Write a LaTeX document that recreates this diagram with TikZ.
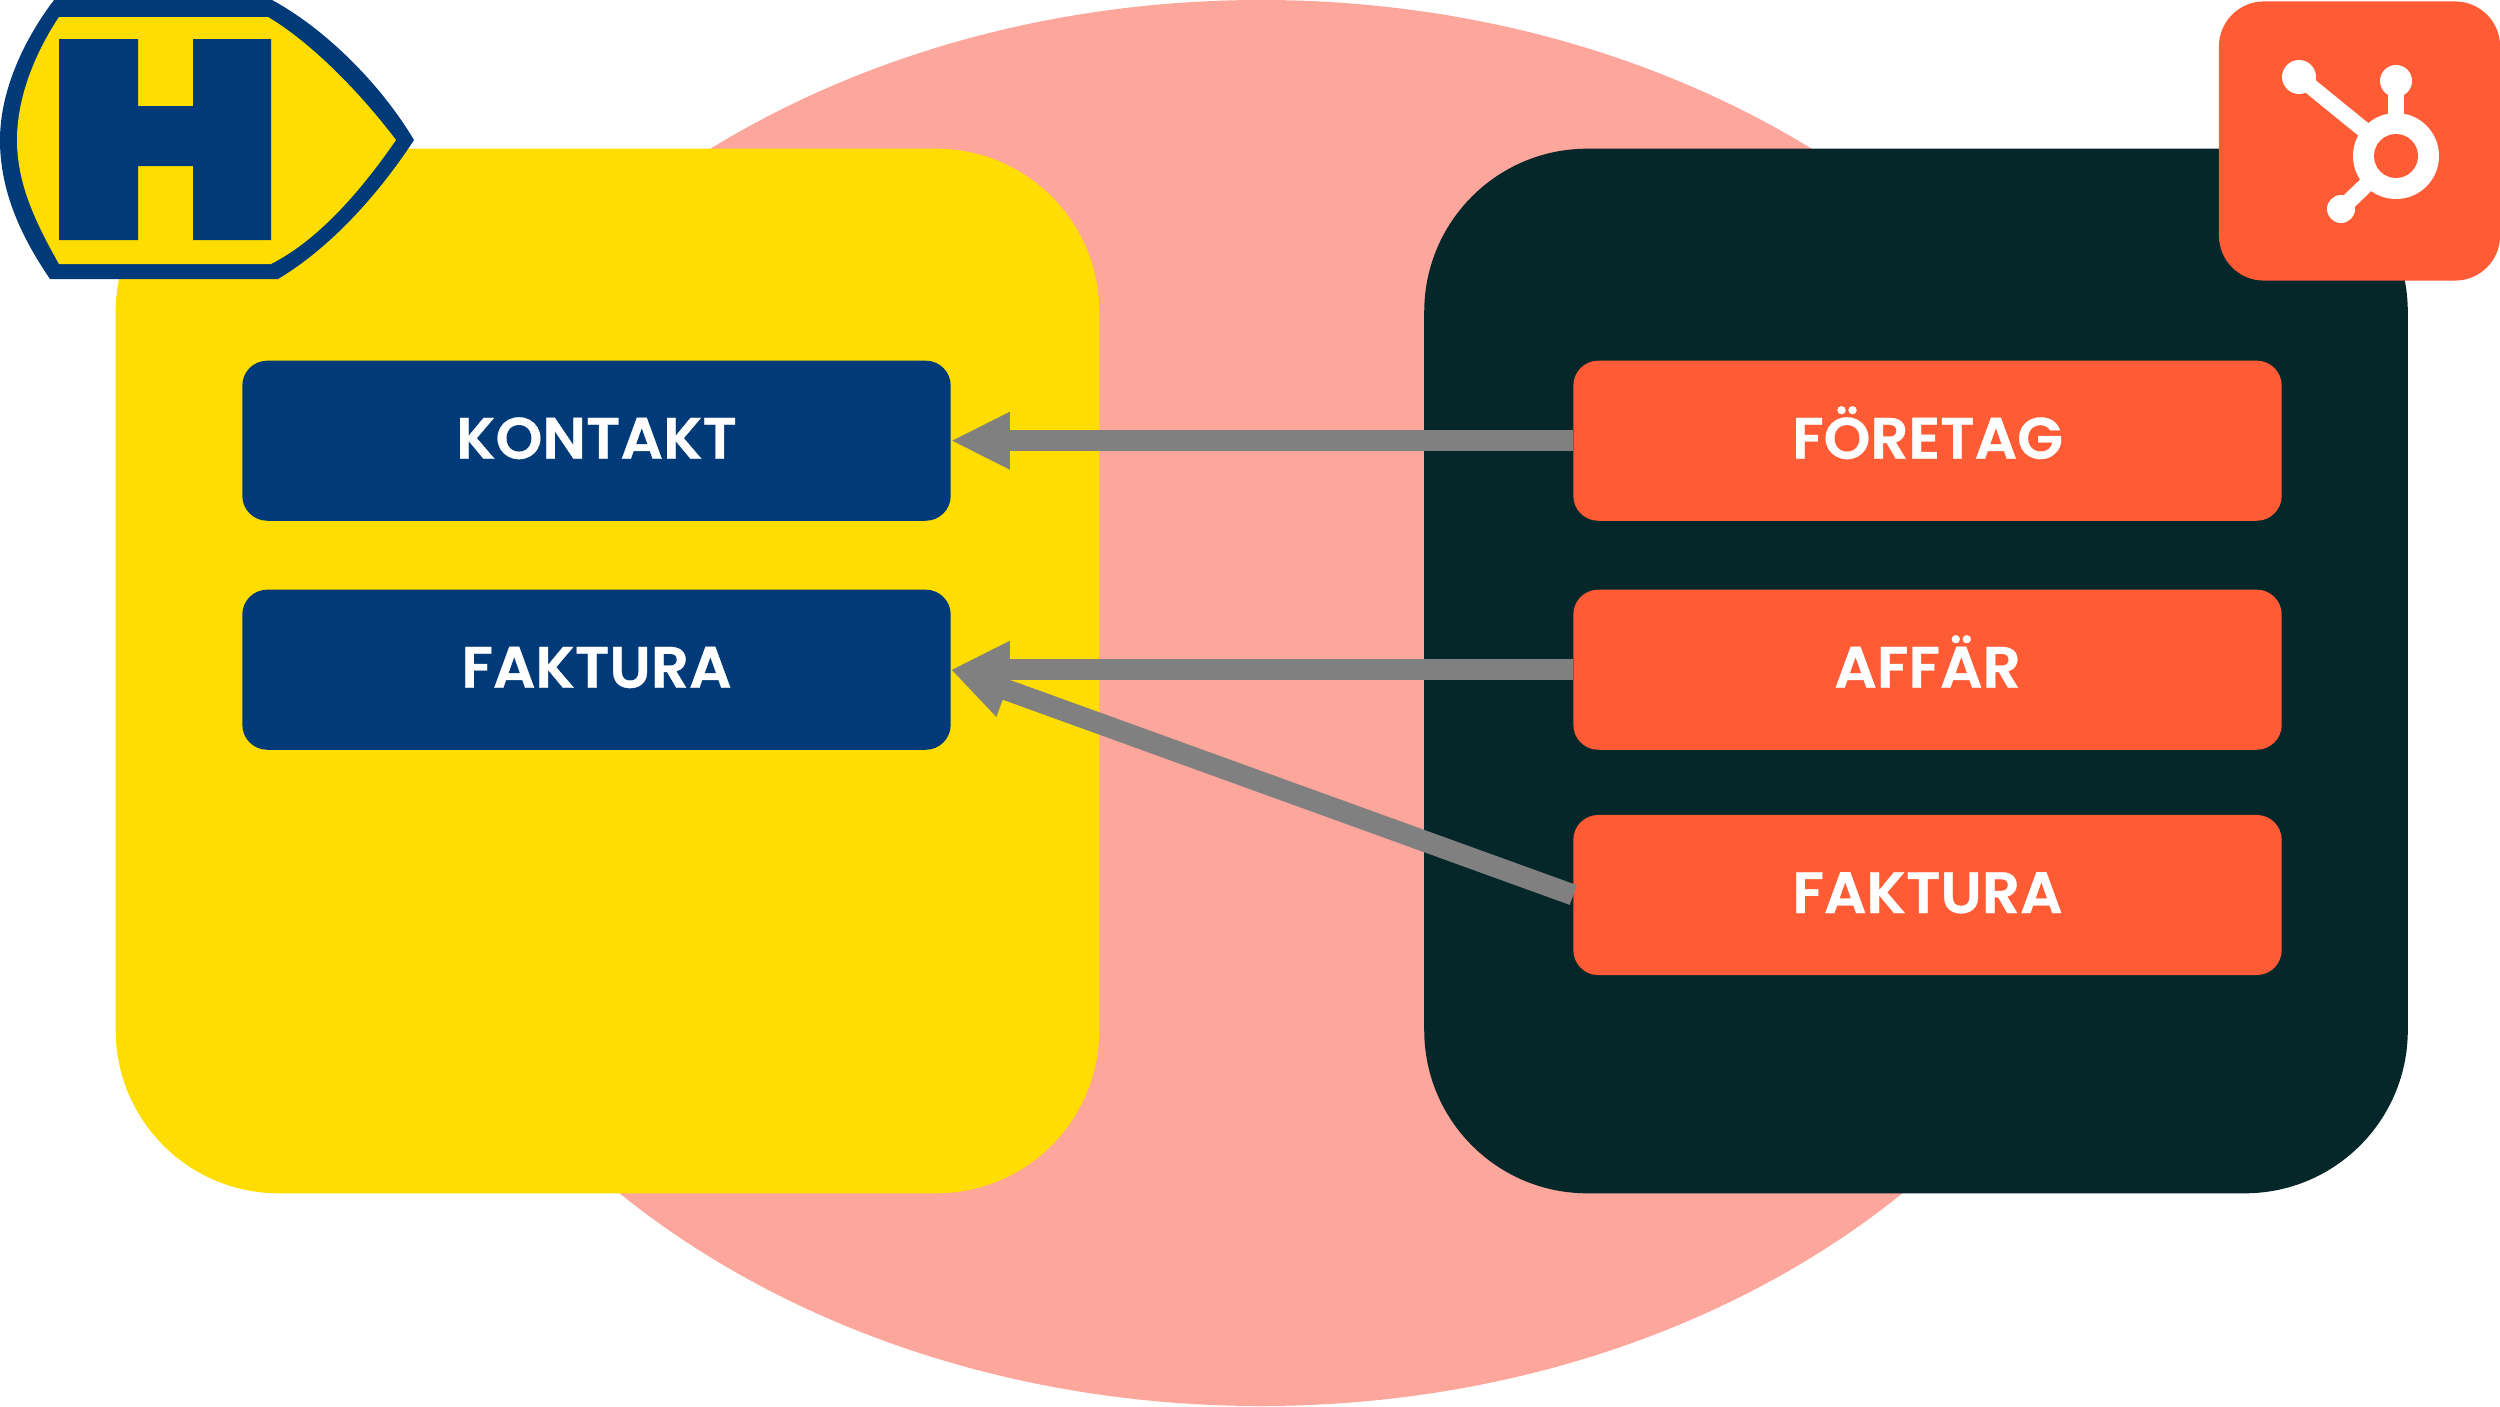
\documentclass[tikz,border=0pt]{standalone}
\usepackage{fontspec}
\usepackage{tikz}
\usetikzlibrary{arrows.meta}
\newfontfamily\labelfont[FakeStretch=1.02,FakeBold=0.6]{Poppins SemiBold}
\definecolor{hpink}{HTML}{FCA69C}
\definecolor{hyellow}{HTML}{FFDD00}
\definecolor{hdark}{HTML}{05272A}
\definecolor{hblue}{HTML}{003A78}
\definecolor{horange}{HTML}{FF5C35}
\definecolor{hgrey}{HTML}{808080}
\tikzset{
 panel/.style={rectangle,rounded corners=1.63cm,minimum width=9.83cm,minimum height=10.44cm,inner sep=0pt,outer sep=0pt},
 entity/.style={rectangle,rounded corners=0.25cm,minimum width=7.08cm,minimum height=1.6cm,inner sep=0pt,outer sep=0pt,text=white,text height=0.36cm,text depth=0pt,font=\labelfont\fontsize{16.6}{18}\selectfont},
 flow/.style={draw=hgrey,line width=0.21cm,-{Triangle[length=0.59cm,width=0.53cm]}},
 spoke/.style={draw=white,line width=0.16cm}
}
\begin{document}
\begin{tikzpicture}[x=0.01cm,y=-0.01cm]
 \useasboundingbox (0,0) rectangle (2500,1406);
 \fill[hpink] (1261,703) ellipse [x radius=895,y radius=703];
 \node (hogia) at (607.5,671) [panel,fill=hyellow] {};
 \node (hub) at (1916,671) [panel,fill=hdark] {};
 \node (kontakt) at (596.5,440.7) [entity,fill=hblue] {KONTAKT};
 \node (faktura) at (596.5,669.7) [entity,fill=hblue] {FAKTURA};
 \node (foretag) at (1927.5,440.7) [entity,fill=horange] {FÖRETAG};
 \node (affar) at (1927.5,669.7) [entity,fill=horange] {AFFÄR};
 \node (invoice) at (1927.5,895) [entity,fill=horange] {FAKTURA};
 \draw[flow] (foretag) -- (kontakt);
 \draw[flow] (affar) -- (faktura);
 \draw[flow] (invoice.west) -- (faktura.east);
 \fill[hblue] (54,0) -- (272,0) .. controls (322,27) and (378,80) .. (414,140) .. controls (378,195) and (330,248) .. (278,279) -- (50,279) .. controls (20,235) and (0,190) .. (0,140) .. controls (0,95) and (20,45) .. (54,0) -- cycle;
 \fill[hyellow] (59,17) -- (268,17) .. controls (310,42) and (358,90) .. (396,140) .. controls (360,192) and (318,240) .. (271,264) -- (59,264) .. controls (37,225) and (17,185) .. (17,140) .. controls (17,95) and (37,50) .. (59,17) -- cycle;
 \fill[hblue] (59,39) -- (138,39) -- (138,106) -- (193,106) -- (193,39) -- (271,39) -- (271,240) -- (193,240) -- (193,166) -- (138,166) -- (138,240) -- (59,240) -- cycle;
 \node (badge) at (2359.5,141) [rectangle,rounded corners=0.45cm,minimum width=2.81cm,minimum height=2.79cm,inner sep=0pt,outer sep=0pt,fill=horange] {};
 \coordinate (ring) at (2396,156);
 \coordinate (one) at (2299,77);
 \coordinate (two) at (2396,81);
 \coordinate (three) at (2341,209);
 \draw[spoke] (ring) -- (one);
 \draw[spoke] (ring) -- (two);
 \draw[spoke] (ring) -- (three);
 \fill[white] (one) circle [radius=17];
 \fill[white] (two) circle [radius=16];
 \fill[white] (three) circle [radius=14];
 \fill[white] (ring) circle [radius=43];
 \fill[horange] (ring) circle [radius=22];
\end{tikzpicture}
\end{document}
